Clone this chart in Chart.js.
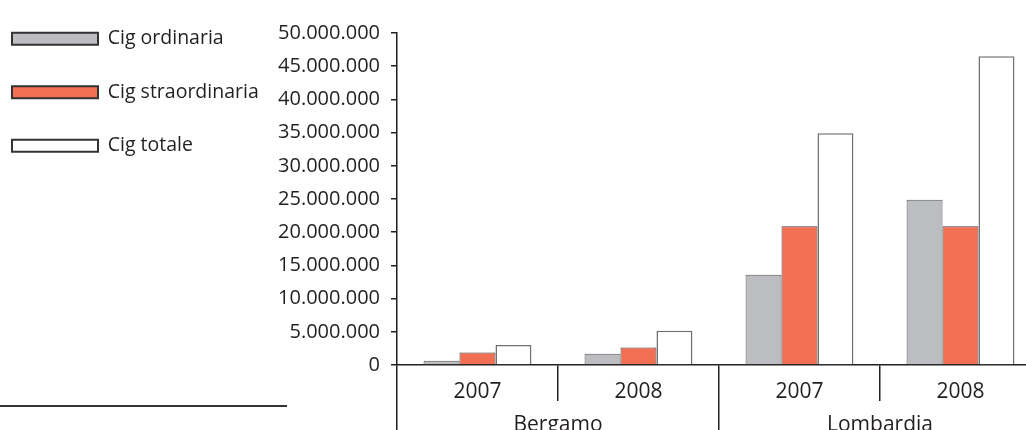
<!DOCTYPE html>
<html lang="it">
<head>
  <meta charset="UTF-8">
  <title>Cig Bergamo e Lombardia</title>
  <script src="https://cdn.jsdelivr.net/npm/chart.js"></script>
  <style>
    html, body{margin: 0; padding: 0; overflow: hidden; background: #fff;}
    #wrap{position: relative; width: 1041px; height: 450px;}
  </style>
</head>
<body>
  <div id="wrap">
    <canvas id="myChart" width="1041" height="450"></canvas>
  </div>
  <script>
    // dati
    const anni = ['2007', '2008', '2007', '2008'];
    const territori = ['Bergamo', 'Lombardia'];
    const nomiSerie = ['Cig ordinaria', 'Cig straordinaria', 'Cig totale'];
    const cigOrdinaria = [650000, 1700000, 13600000, 24900000];
    const cigStraordinaria = [1900000, 2650000, 20900000, 20900000];
    const cigTotale = [3000000, 5150000, 34900000, 46500000];
    const yMax = 50000000;
    const yStep = 5000000;

    const nero = '#231f20';

    Chart.defaults.font.family = "'Open Sans', sans-serif";
    Chart.defaults.color = nero;

    // punti come separatore delle migliaia
    function migliaia(v){
      return String(v).replace(/\B(?=(\d{3})+(?!\d))/g, '.');
    }

    // linea sopra la fonte, in basso a sinistra
    const lineaFonte = {
      id: 'lineaFonte',
      afterDraw(chart){
        const c = chart.ctx;
        c.save();
        c.strokeStyle = '#333';
        c.lineWidth = 2;
        c.beginPath();
        c.moveTo(0, 406);
        c.lineTo(287, 406);
        c.stroke();
        c.restore();
      }
    };

    const ctx = document.getElementById('myChart');

    new Chart(ctx, {
      type: 'bar',
      data: {
        labels: anni,
        datasets: [
          {label: nomiSerie[0], data: cigOrdinaria, backgroundColor: '#bcbdc0', borderColor: '#58585c', borderWidth: 1},
          {label: nomiSerie[1], data: cigStraordinaria, backgroundColor: '#f26f53', borderColor: '#4a3a36', borderWidth: 1},
          {label: nomiSerie[2], data: cigTotale, backgroundColor: '#ffffff', borderColor: '#707070', borderWidth: 1.5}
        ]
      },
      options: {
        responsive: false,
        animation: false,
        datasets: {
          bar: {categoryPercentage: 0.67, barPercentage: 1}
        },
        layout: {padding: {left: -22, top: -5, right: 0, bottom: 0}},
        plugins: {
          tooltip: {enabled: false},
          legend: {
            position: 'left',
            align: 'start',
            maxWidth: 330,
            labels: {
              boxWidth: 86,
              boxHeight: 12,
              padding: 34,
              color: nero,
              font: {size: 19.5},
              generateLabels(chart){
                const items = Chart.defaults.plugins.legend.labels.generateLabels(chart);
                items.forEach(function(it){ it.lineWidth = 2; it.strokeStyle = '#333'; });
                return items;
              }
            }
          }
        },
        scales: {
          y: {
            min: 0,
            max: yMax,
            ticks: {stepSize: yStep, padding: 11, font: {size: 20}, color: nero, callback: migliaia},
            grid: {drawOnChartArea: false, tickLength: 6, color: nero, lineWidth: 1.5},
            border: {display: true, color: nero, width: 1.5},
            afterFit(s){
              const lw = s.chart.legend ? s.chart.legend.width : 0;
              s.width = 397 + 22 - lw;
              s.paddingTop = 33;
            }
          },
          x: {
            offset: true,
            grid: {offset: true, drawOnChartArea: false, tickLength: 36, color: nero, lineWidth: 1.5},
            border: {display: true, color: nero, width: 1.5},
            ticks: {padding: -22, maxRotation: 0, font: {size: 21}, color: nero},
            afterFit(s){ s.height = 36; }
          },
          x2: {
            type: 'category',
            labels: territori,
            position: 'bottom',
            weight: 1,
            offset: true,
            grid: {offset: true, drawOnChartArea: false, tickLength: 50, color: nero, lineWidth: 1.5},
            border: {display: false},
            ticks: {padding: -39, maxRotation: 0, font: {size: 21}, color: nero},
            afterFit(s){ s.height = 49; }
          }
        }
      },
      plugins: [lineaFonte]
    });
  </script>
</body>
</html>
